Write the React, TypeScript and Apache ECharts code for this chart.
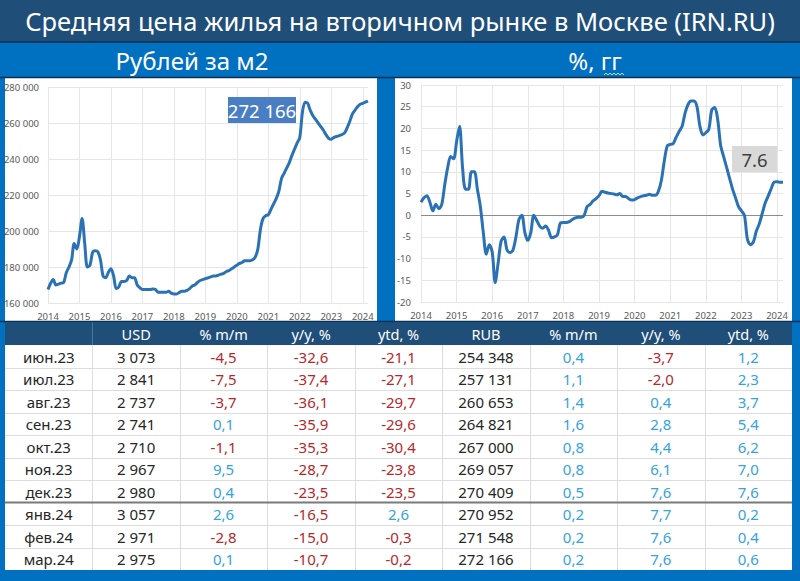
import React, { useEffect, useRef } from "react";
import * as echarts from "echarts";

// ---------- DATA ----------
// Monthly average price, rub/m2, Jan 2014 – May 2023
const priceHistory: number[] = [
  167500, 171000, 173000, 170000, 170500, 171000, 171500, 177000, 180000, 184000, 193000, 190000,
  197000, 207000, 193000, 180000, 181000, 188000, 189000, 188500, 184000, 175000, 174000, 177000,
  179000, 175000, 168000, 169000, 172000, 172000, 172500, 175000, 174000, 174000, 170000, 168500,
  167500, 167500, 167500, 167500, 167800, 167500, 166000, 166000, 166000, 166000, 166500, 165500,
  165000, 165000, 165800, 166500, 166500, 167000, 168000, 169500, 170000, 171500, 172500, 173000,
  173500, 174000, 174500, 175000, 175000, 175500, 176000, 176500, 177500, 178000, 179000, 180000,
  181000, 182000, 182500, 183500, 183500, 183500, 184000, 185500, 190000, 201000, 207000, 208500,
  209000, 212000, 215000, 218000, 222000, 229000, 232000, 235000, 238000, 242000, 245500, 249000,
  252000, 266000, 271500, 271000, 267000, 264000, 262000, 260000, 258000, 256000, 253500, 251500,
  251000, 252000, 252500, 253000, 253500,
];
// y/y change, %, Jan 2014 – May 2023
const yoyHistory: number[] = [
  3, 4, 4.5, 3, 1, 2.5, 1.5, 2.5, 7, 11, 13.5, 13,
  17, 20.5, 11, 6, 6, 10, 10, 6, 2, -4, -9, -6.8,
  -8.5, -15.5, -11, -6, -5, -8, -8.6, -8, -5, -1, 0, -4,
  -5.8, -4, 0, -1.2, -2.5, -3, -2.5, -3.5, -5.2, -5, -4.5, -1.8,
  -1.7, -1.7, -1.5, -1, -0.6, -0.5, -0.5, 0, 2, 2.5, 3.3, 3.8,
  4.5, 5.5, 5.3, 5.1, 5, 4.9, 4.7, 5, 4.3, 4.3, 3.8, 3.5,
  3.6, 4, 4.3, 4.5, 4.6, 4.8, 4.6, 4.6, 5.5, 8, 12.5, 16,
  16.3, 16.5, 18, 19.3, 20.5, 23.5, 25.5, 26.3, 26.3, 25, 20.5, 18.5,
  19, 19.8, 24.3, 24.8, 22, 16, 13.5, 11, 8.5, 6, 4, 2,
  1, 0, -5.5, -6.8, -6.2,
];

// Table
const tableMonths = ["июн.23", "июл.23", "авг.23", "сен.23", "окт.23", "ноя.23", "дек.23", "янв.24", "фев.24", "мар.24"];
const usd = [3073, 2841, 2737, 2741, 2710, 2967, 2980, 3057, 2971, 2975];
const usdMoM = [-4.5, -7.5, -3.7, 0.1, -1.1, 9.5, 0.4, 2.6, -2.8, 0.1];
const usdYoY = [-32.6, -37.4, -36.1, -35.9, -35.3, -28.7, -23.5, -16.5, -15.0, -10.7];
const usdYtd = [-21.1, -27.1, -29.7, -29.6, -30.4, -23.8, -23.5, 2.6, -0.3, -0.2];
const rub = [254348, 257131, 260653, 264821, 267000, 269057, 270409, 270952, 271548, 272166];
const rubMoM = [0.4, 1.1, 1.4, 1.6, 0.8, 0.8, 0.5, 0.2, 0.2, 0.2];
const rubYoY = [-3.7, -2.0, 0.4, 2.8, 4.4, 6.1, 7.6, 7.7, 7.6, 7.6];
const rubYtd = [1.2, 2.3, 3.7, 5.4, 6.2, 7.0, 7.6, 0.2, 0.4, 0.6];
const tableHeaders = ["", "USD", "% m/m", "y/y, %", "ytd, %", "RUB", "% m/m", "y/y, %", "ytd, %"];

const title = "Средняя цена жилья на вторичном рынке в Москве (IRN.RU)";
const leftSubtitle = "Рублей за м2";
const rightSubtitle = "%, гг";

// ---------- helpers ----------
const months: string[] = [];
for (let y = 2014; y <= 2024; y++) {
  for (let m = 1; m <= 12; m++) {
    if (y === 2024 && m > 3) break;
    months.push(`${y}-${String(m).padStart(2, "0")}`);
  }
}
const priceSeries = [...priceHistory, ...rub];
const yoySeries = [...yoyHistory, ...rubYoY];

const thousands = (v: number) => String(Math.round(v)).replace(/\B(?=(\d{3})+(?!\d))/g, " ");
const dec = (v: number) => v.toFixed(1).replace(".", ",");

const FONT = "'Noto Sans', 'Open Sans', sans-serif";
const RED = "#b5282c";
const BLUE = "#35a3dc";
const INK = "#262626";

export default function App() {
  const ref = useRef<HTMLDivElement>(null);
  useEffect(() => {
    if (!ref.current) return;
    const chart = echarts.init(ref.current, undefined, { renderer: "svg" });

    const isYear = (i: number) => i % 12 === 0;
    const gridColor = "#e6e6e6";
    const labelColor = "#595959";

    const graphic: any[] = [];
    // title bars
    graphic.push({ type: "rect", shape: { x: 0, y: 0, width: 800, height: 42 }, style: { fill: "#1f4e79" }, z: -5 });
    graphic.push({ type: "rect", shape: { x: 0, y: 42, width: 800, height: 36 }, style: { fill: "#0070c0" }, z: -5 });
    graphic.push({ type: "line", shape: { x1: 0, y1: 42, x2: 800, y2: 42 }, style: { stroke: "#0f2f4d", lineWidth: 1.5 }, z: -4 });
    graphic.push({ type: "line", shape: { x1: 0, y1: 77.5, x2: 800, y2: 77.5 }, style: { stroke: "#0f2f4d", lineWidth: 1.5 }, z: -4 });
    // white chart panels
    graphic.push({ type: "rect", shape: { x: 5, y: 78, width: 372, height: 243 }, style: { fill: "#ffffff" }, z: -5 });
    graphic.push({ type: "rect", shape: { x: 395, y: 78, width: 397, height: 243 }, style: { fill: "#ffffff" }, z: -5 });
    graphic.push({ type: "line", shape: { x1: 0, y1: 321.5, x2: 800, y2: 321.5 }, style: { stroke: "#0f2f4d", lineWidth: 1.5 }, z: -4 });
    // texts
    graphic.push({
      type: "text", x: 400, y: 21, z: 10,
      style: { text: title, fill: "#ffffff", fontSize: 25.5, fontFamily: FONT, align: "center", verticalAlign: "middle" },
    });
    graphic.push({
      type: "text", x: 192, y: 60, z: 10,
      style: { text: leftSubtitle, fill: "#ffffff", fontSize: 24, fontFamily: FONT, align: "center", verticalAlign: "middle" },
    });
    graphic.push({
      type: "text", x: 595, y: 60, z: 10,
      style: { text: rightSubtitle, fill: "#ffffff", fontSize: 24, fontFamily: FONT, align: "center", verticalAlign: "middle" },
    });
    // spell-check squiggle under "гг"
    const sq: number[][] = [];
    for (let k = 0; k <= 10; k++) sq.push([604 + k * 2, k % 2 === 0 ? 75 : 73]);
    graphic.push({ type: "polyline", shape: { points: sq }, style: { stroke: "#c9d9ec", lineWidth: 1, fill: null }, z: 10 });

    // annotations
    const lastPrice = priceSeries[priceSeries.length - 1];
    const lastYoy = yoySeries[yoySeries.length - 1];
    graphic.push({ type: "rect", shape: { x: 228, y: 97, width: 68, height: 26 }, style: { fill: "#4a7ec4" }, z: 20 });
    graphic.push({
      type: "text", x: 262, y: 110.5, z: 21,
      style: { text: thousands(lastPrice), fill: "#ffffff", fontSize: 18.5, fontFamily: FONT, align: "center", verticalAlign: "middle" },
    });
    graphic.push({ type: "rect", shape: { x: 732, y: 146, width: 45, height: 26 }, style: { fill: "#d9d9d9" }, z: 20 });
    graphic.push({
      type: "text", x: 754.5, y: 159.5, z: 21,
      style: { text: lastYoy.toFixed(1), fill: "#404040", fontSize: 18.5, fontFamily: FONT, align: "center", verticalAlign: "middle" },
    });

    // table
    const tx = 5, tw = 787, headerTop = 322.5, headerH = 22.5, bodyTop = 345, rowH = 22.5;
    const nCols = tableHeaders.length;
    const colW = tw / nCols;
    const nRows = tableMonths.length;
    graphic.push({ type: "rect", shape: { x: tx, y: headerTop, width: tw, height: headerH }, style: { fill: "#1f4e79" }, z: -5 });
    graphic.push({ type: "rect", shape: { x: tx, y: bodyTop, width: tw, height: rowH * nRows }, style: { fill: "#ffffff" }, z: -5 });
    graphic.push({ type: "line", shape: { x1: tx + colW, y1: headerTop, x2: tx + colW, y2: bodyTop }, style: { stroke: "#4b77a3", lineWidth: 1 }, z: -3 });
    for (let j = 1; j < nCols; j++) {
      const x = Math.round(tx + j * colW) + 0.5;
      graphic.push({ type: "line", shape: { x1: x, y1: bodyTop, x2: x, y2: bodyTop + rowH * nRows }, style: { stroke: "#dcdcdc", lineWidth: 1 }, z: -3 });
    }
    for (let i = 1; i < nRows; i++) {
      const y = Math.round(bodyTop + i * rowH) + 0.5;
      if (i === 7) continue;
      graphic.push({ type: "line", shape: { x1: tx, y1: y, x2: tx + tw, y2: y }, style: { stroke: "#dcdcdc", lineWidth: 1 }, z: -3 });
    }
    {
      const y = bodyTop + 7 * rowH;
      graphic.push({ type: "line", shape: { x1: tx, y1: y, x2: tx + tw, y2: y }, style: { stroke: "#7a7a7a", lineWidth: 2 }, z: -2 });
    }
    tableHeaders.forEach((h, j) => {
      if (!h) return;
      graphic.push({
        type: "text", x: tx + (j + 0.5) * colW, y: headerTop + headerH / 2 + 0.5, z: 10,
        style: { text: h, fill: "#ffffff", fontSize: 14.5, fontFamily: FONT, align: "center", verticalAlign: "middle" },
      });
    });
    const colorOf = (v: number) => (v < 0 ? RED : BLUE);
    const cols: { vals: (string | number)[]; fmt: (v: any) => string; color: (v: any) => string }[] = [
      { vals: tableMonths, fmt: (v) => v, color: () => INK },
      { vals: usd, fmt: thousands, color: () => INK },
      { vals: usdMoM, fmt: dec, color: colorOf },
      { vals: usdYoY, fmt: dec, color: colorOf },
      { vals: usdYtd, fmt: dec, color: colorOf },
      { vals: rub, fmt: thousands, color: () => INK },
      { vals: rubMoM, fmt: dec, color: colorOf },
      { vals: rubYoY, fmt: dec, color: colorOf },
      { vals: rubYtd, fmt: dec, color: colorOf },
    ];
    cols.forEach((c, j) => {
      c.vals.forEach((v, i) => {
        graphic.push({
          type: "text", x: tx + (j + 0.5) * colW, y: bodyTop + (i + 0.5) * rowH + 0.5, z: 10,
          style: { text: c.fmt(v), fill: c.color(v), fontSize: 15, fontFamily: FONT, align: "center", verticalAlign: "middle" },
        });
      });
    });

    const xAxisBase = (gridIndex: number, margin: number) => ({
      type: "category" as const,
      gridIndex,
      data: months,
      boundaryGap: false,
      axisLine: { show: false },
      axisTick: { show: false },
      axisLabel: {
        interval: (i: number) => isYear(i),
        formatter: (v: string) => v.slice(0, 4),
        color: labelColor,
        fontSize: 9.5,
        fontFamily: FONT,
        margin,
      },
      splitLine: { show: true, interval: (i: number) => isYear(i), lineStyle: { color: gridColor, width: 1 } },
    });

    chart.setOption({
      animation: false,
      backgroundColor: "#0070c0",
      textStyle: { fontFamily: FONT },
      grid: [
        { left: 48, top: 87, width: 320, height: 216, containLabel: false },
        { left: 421, top: 85, width: 362, height: 217, containLabel: false },
      ],
      xAxis: [xAxisBase(0, 8), xAxisBase(1, 8)],
      yAxis: [
        {
          type: "value", gridIndex: 0, min: 160000, max: 280000, interval: 20000,
          axisLine: { show: false }, axisTick: { show: false },
          axisLabel: { formatter: (v: number) => thousands(v), color: labelColor, fontSize: 9.5, fontFamily: FONT, margin: 9 },
          splitLine: { lineStyle: { color: gridColor, width: 1 } },
        },
        {
          type: "value", gridIndex: 1, min: -20, max: 30, interval: 5,
          axisLine: { show: false }, axisTick: { show: false },
          axisLabel: { color: labelColor, fontSize: 9.5, fontFamily: FONT, margin: 10 },
          splitLine: { lineStyle: { color: gridColor, width: 1 } },
        },
      ],
      series: [
        {
          type: "line", xAxisIndex: 0, yAxisIndex: 0, data: priceSeries,
          showSymbol: false, smooth: 0.3,
          lineStyle: { color: "#2a72b5", width: 3 }, itemStyle: { color: "#2a72b5" }, z: 5,
        },
        {
          type: "line", xAxisIndex: 1, yAxisIndex: 1, data: yoySeries,
          showSymbol: false, smooth: 0.3,
          lineStyle: { color: "#2a72b5", width: 3 }, itemStyle: { color: "#2a72b5" }, z: 5,
          markLine: {
            silent: true, symbol: "none", label: { show: false },
            lineStyle: { color: "#8c8c8c", width: 1, type: "solid" },
            data: [{ yAxis: 0 }],
          },
        },
      ],
      graphic,
    });
    return () => chart.dispose();
  }, []);
  return <div ref={ref} style={{ position: "absolute", left: 0, top: 0, width: 800, height: 581 }} />;
}
